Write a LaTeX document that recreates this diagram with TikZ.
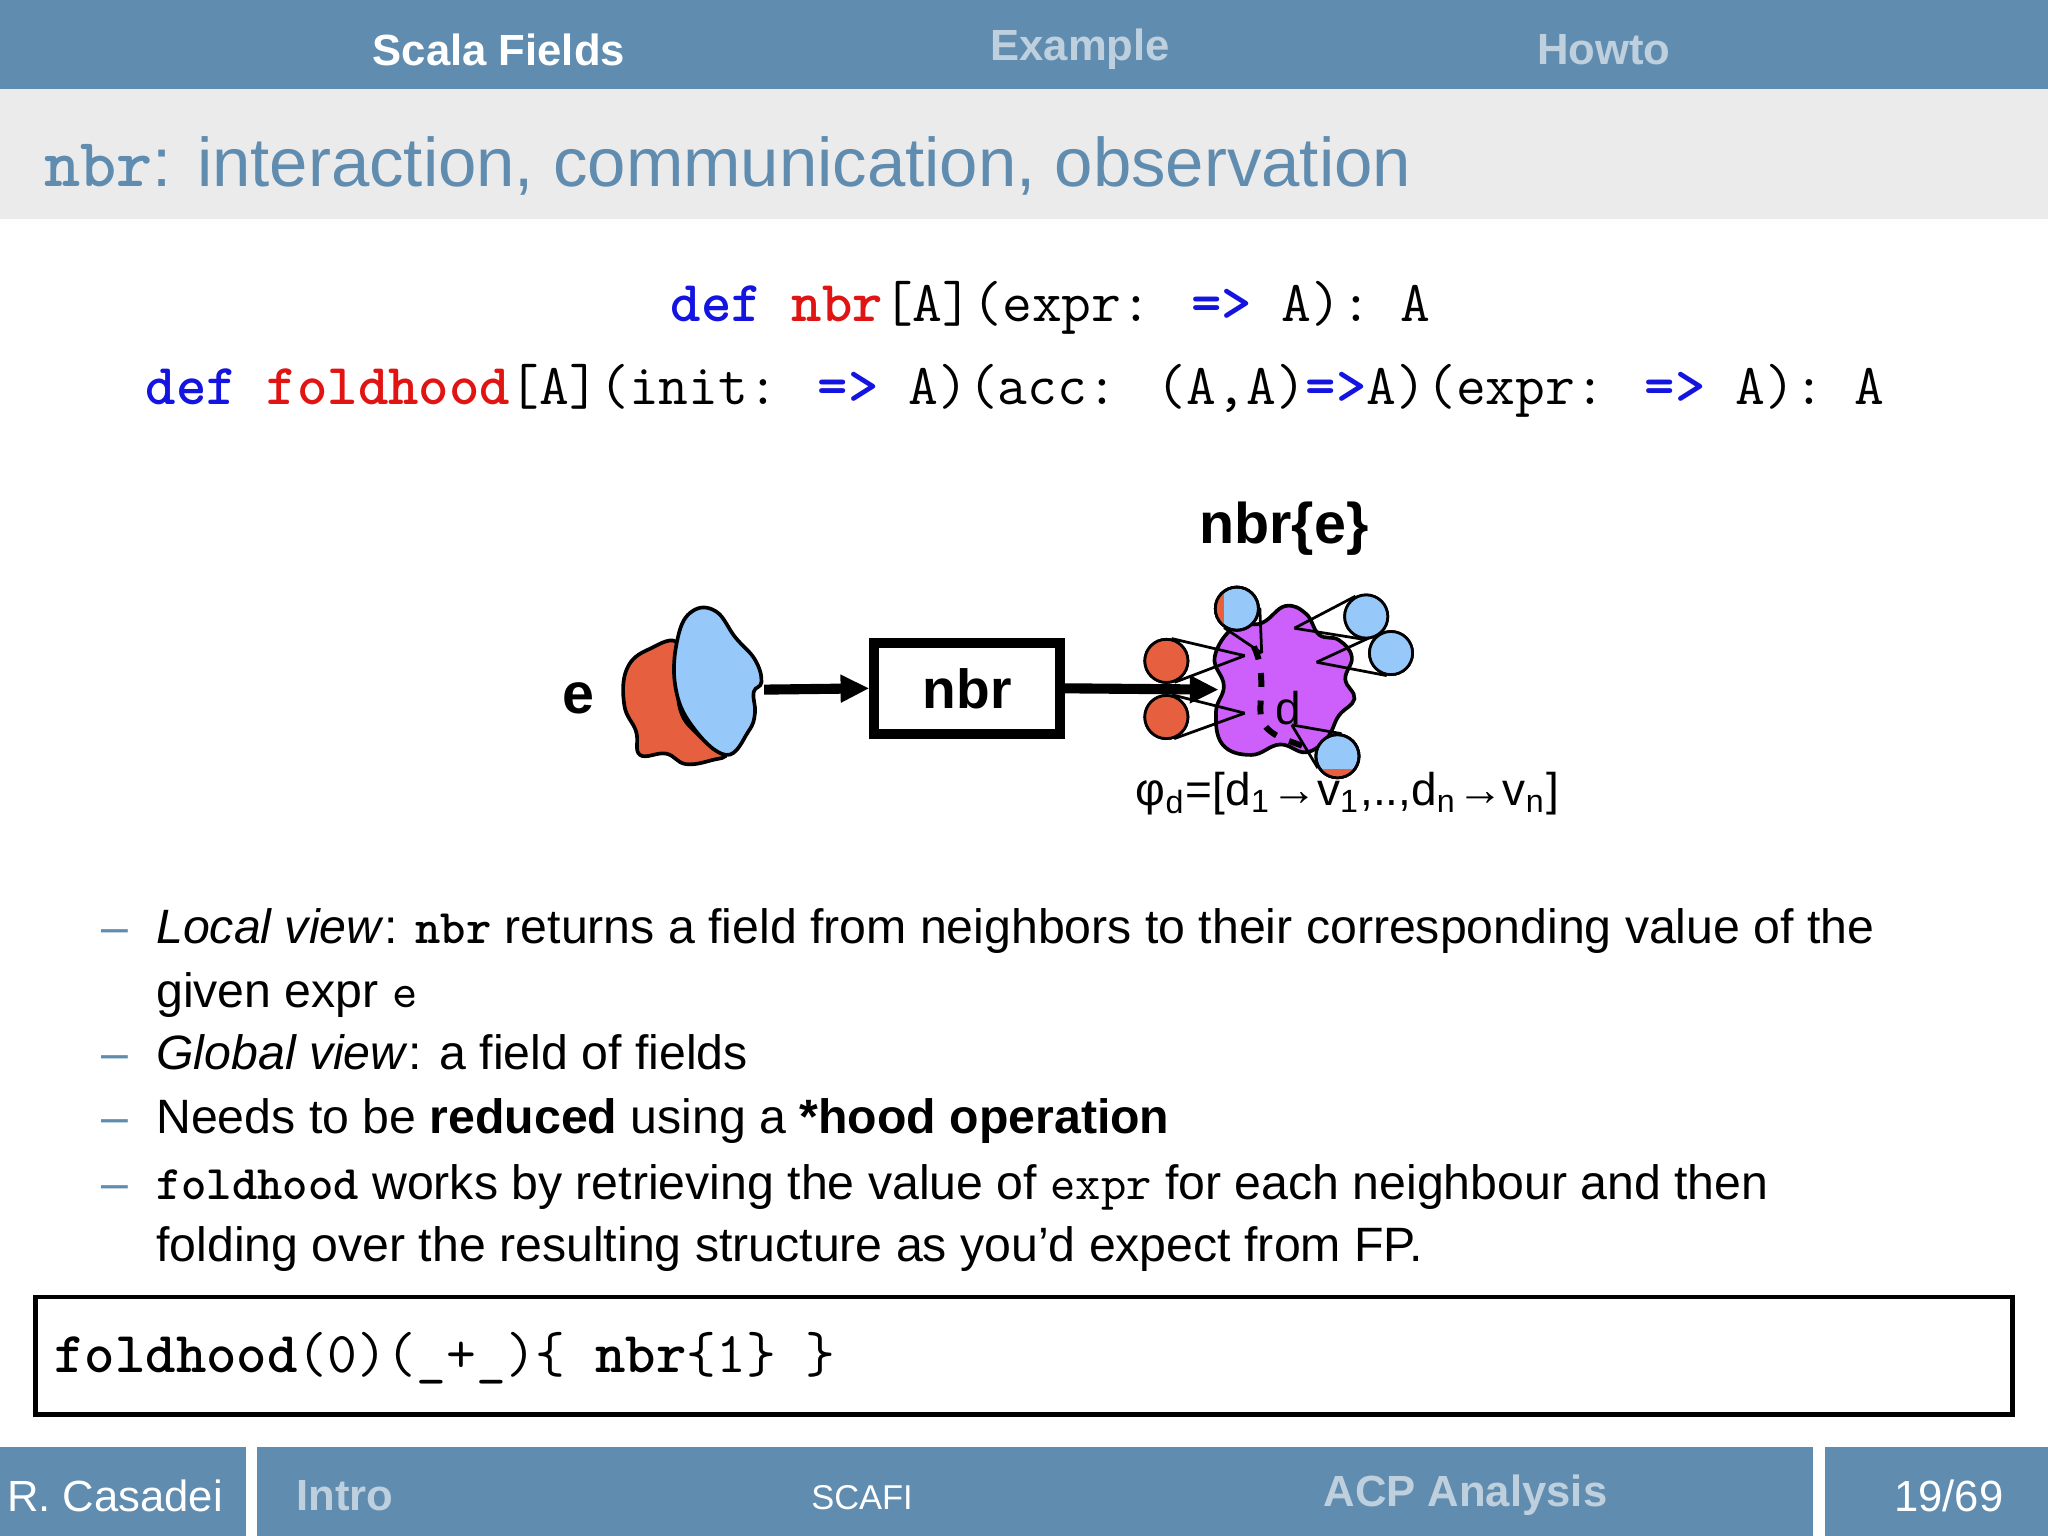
\documentclass[tikz,border=0pt]{standalone}
\usepackage{fontspec}
\setmainfont{Liberation Sans}
\usetikzlibrary{calc,arrows.meta}
\definecolor{bar}{RGB}{96,140,176}
\definecolor{barlt}{RGB}{190,208,222}
\definecolor{titlebg}{RGB}{235,235,235}
\definecolor{kwblue}{RGB}{20,20,225}
\definecolor{kwred}{RGB}{225,20,20}
\definecolor{blobred}{RGB}{230,96,64}
\definecolor{blobblue}{RGB}{150,200,250}
\definecolor{purp}{RGB}{205,95,250}
\newcommand{\kb}[1]{\textcolor{kwblue}{\textbf{#1}}}
\newcommand{\kr}[1]{\textcolor{kwred}{\textbf{#1}}}
\tikzset{
  bartext/.style={font=\fontsize{9.5}{11}\selectfont\bfseries, anchor=center},
  body/.style={font=\fontsize{10.5}{13}\selectfont, anchor=base west, inner sep=0pt},
  codeline/.style={font=\fontsize{12.6}{15}\selectfont\ttfamily, anchor=base west, inner sep=0pt},
  bdash/.style={font=\fontsize{10.5}{13}\selectfont, text=bar, anchor=base west, inner sep=0pt},
  sat/.style={circle, draw=black, line width=0.6pt, minimum size=0.33cm, inner sep=0pt, fill=blobblue},
  satr/.style={sat, fill=blobred},
  cone/.style={line width=0.6pt},
  outl/.style={draw=black, line width=0.8pt}
}
\begin{document}
\begin{tikzpicture}[x=0.01cm,y=-0.01cm]
\useasboundingbox (0,0) rectangle (1568,1176);
% header
\fill[bar] (0,0) rectangle (1568,68);
\node[bartext, text=white] (h1) at (382,38) {Scala Fields};
\node[bartext, text=barlt] (h2) at (827,38) {Example};
\node[bartext, text=barlt] (h3) at (1228,38) {Howto};
\fill[titlebg] (0,68) rectangle (1568,168);
\node[anchor=base west, inner sep=0pt, text=bar, font=\fontsize{15}{18}\selectfont] (title) at (33,143) {{\ttfamily\bfseries nbr}: interaction, communication, observation};
% code lines
\node[codeline] (c1) at (513,246) {\kb{def} \kr{nbr}[A](expr: \kb{=>} A): A};
\node[codeline] (c2) at (111,310) {\kb{def} \kr{foldhood}[A](init: \kb{=>} A)(acc: (A,A)\kb{=>}A)(expr: \kb{=>} A): A};
% diagram
\node[font=\fontsize{12.5}{15}\selectfont\bfseries] (lab) at (983,405) {nbr\{e\}};
\node[font=\fontsize{12.5}{15}\selectfont\bfseries] (e) at (443,535) {e};
% left blob
\filldraw[fill=blobred, outl] plot[smooth cycle, tension=0.7] coordinates {(520,494) (497,497) (480,512) (478,540) (487,560) (490,578) (510,577) (525,585) (545,582) (555,577) (535,563) (520,540)};
\filldraw[fill=blobblue, outl] plot[smooth cycle, tension=0.7] coordinates {(519,488) (530,468) (548,468) (563,488) (578,505) (583,522) (577,530) (578,546) (573,560) (556,578) (530,556) (517,525)};
\coordinate (lb) at (585,528);
\node[draw=black, line width=2.2pt, minimum width=1.42cm, minimum height=0.70cm, font=\fontsize{12}{14}\selectfont\bfseries] (box) at (740.5,527) {nbr};
\draw[line width=2.2pt, -{Triangle[length=0.22cm,width=0.2cm]}] (lb) -- (box.west);
% purple blob
\filldraw[fill=purp, outl] plot[smooth cycle, tension=0.7] coordinates {(945,480) (966,477) (984,464) (1000,470) (1010,486) (1025,490) (1035,503) (1030,520) (1037,535) (1025,548) (1016,565) (1000,576) (980,570) (958,578) (936,570) (931,545) (937,525) (930,503)};
\coordinate (pb) at (933,528);
\draw[line width=2.2pt, -{Triangle[length=0.22cm,width=0.2cm]}] (box.east) -- (pb);
\draw[line width=1.3pt, dashed] (960,495) .. controls (972,520) and (960,545) .. (968,555) .. controls (975,565) and (990,568) .. (997,571);
\node[font=\fontsize{10}{12}\selectfont] (d) at (986,542) {d};
% satellites
\coordinate (a1) at (966,500);
\coordinate (a2) at (991,481);
\coordinate (a3) at (1008,507);
\coordinate (a4) at (989,555);
\coordinate (a5) at (953,502);
\coordinate (a6) at (953,546);
\node[sat] (s1) at (947,466) {};
\node[sat] (s2) at (1046,472) {};
\node[sat] (s3) at (1065,500) {};
\node[sat] (s4) at (1024,579) {};
\node[satr] (s5) at (893,506) {};
\node[satr] (s6) at (893,549) {};
\foreach \i in {1,...,6}{
  \draw[cone] (a\i) -- (tangent cs:node=s\i,point={(a\i)},solution=1);
  \draw[cone] (a\i) -- (tangent cs:node=s\i,point={(a\i)},solution=2);
}
\foreach \i in {1,2,3,4}{\node[sat] at (s\i) {};}
\foreach \i in {5,6}{\node[satr] at (s\i) {};}
\begin{scope}
\clip (s1) circle[radius=0.165cm];
\fill[blobred] (925,440) rectangle (937,490);
\end{scope}
\draw[line width=0.6pt] (s1) circle[radius=0.165cm];
\begin{scope}
\clip (s4) circle[radius=0.165cm];
\fill[blobred] (1000,589) rectangle (1050,600);
\end{scope}
\draw[line width=0.6pt] (s4) circle[radius=0.165cm];
\node[anchor=base west, inner sep=0pt, font=\fontsize{10}{12}\selectfont] (phi) at (869,617) {φ\textsubscript{d}=[d\textsubscript{1}→v\textsubscript{1},..,d\textsubscript{n}→v\textsubscript{n}]};
% bullets
\node[bdash] (d1) at (77,722) {–};
\node[body] (b1) at (119,722) {\textit{Local view}: {\ttfamily\bfseries nbr} returns a field from neighbors to their corresponding value of the};
\node[body] (b1b) at (119,771) {given expr {\ttfamily e}};
\node[bdash] (d2) at (77,819) {–};
\node[body] (b2) at (119,819) {\textit{Global view}: a field of fields};
\node[bdash] (d3) at (77,868) {–};
\node[body] (b3) at (119,868) {Needs to be \textbf{reduced} using a \textbf{*hood operation}};
\node[bdash] (d4) at (77,918) {–};
\node[body] (b4) at (119,918) {{\ttfamily\bfseries foldhood} works by retrieving the value of {\ttfamily expr} for each neighbour and then};
\node[body] (b4b) at (119,966) {folding over the resulting structure as you'd expect from FP.};
% code box
\draw[line width=1pt, fill=white] (27,993) rectangle (1541,1083);
\node[codeline] (cb) at (41,1051) {\textbf{foldhood}(0)(\_+\_)\{ \textbf{nbr}\{1\} \}};
% footer
\fill[bar] (0,1108) rectangle (188,1176);
\fill[bar] (197,1108) rectangle (1388,1176);
\fill[bar] (1397,1108) rectangle (1568,1176);
\node[font=\fontsize{9.5}{11}\selectfont, text=white] (f1) at (88,1145) {R. Casadei};
\node[bartext, text=barlt] (f2) at (264,1145) {Intro};
\node[font=\fontsize{7.5}{9}\selectfont, text=white] (f3) at (660,1147) {SCAFI};
\node[bartext, text=barlt] (f4) at (1122,1145) {ACP Analysis};
\node[font=\fontsize{9.5}{11}\selectfont, text=white] (f5) at (1492,1145) {19/69};
\end{tikzpicture}
\end{document}
